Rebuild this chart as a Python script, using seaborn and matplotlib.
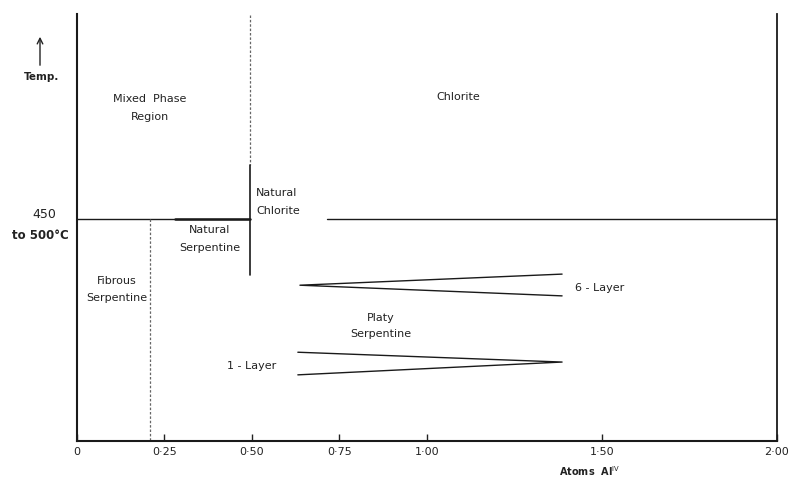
import matplotlib
matplotlib.use("Agg")
import matplotlib.pyplot as plt
import seaborn as sns
import pandas as pd

# ---- data (x = atoms Al IV, y = relative temperature scale 0-100) ----
tick_values = [0, 0.25, 0.50, 0.75, 1.00, 1.50, 2.00]
tick_labels = ["0", "0·25", "0·50", "0·75", "1·00", "1·50", "2·00"]

boundary_y = 52.0                       # 450 to 500 °C line
boundary_left_x = [0.0, 0.494]
boundary_thick_x = [0.28, 0.494]
boundary_right_x = [0.714, 2.0]

nat_x = 0.494
nat_dotted_y = [99.8, 64.6]
nat_solid_y = [64.6, 38.9]

fibrous_x = 0.21
fibrous_y = [52.0, 0.0]

six_layer_x = [1.386, 0.637, 1.386]
six_layer_y = [39.1, 36.5, 34.0]

one_layer_x = [0.631, 1.386, 0.631]
one_layer_y = [20.8, 18.5, 15.5]

sns.set_style("white")
plt.rcParams["font.family"] = ["DejaVu Sans"]

fig = plt.figure(figsize=(7.93, 4.84), dpi=100)
ax = fig.add_axes([0.0971, 0.0888, 0.8827, 0.882])

def seg(x, y, **kw):
    df = pd.DataFrame({"x": x, "y": y})
    sns.lineplot(data=df, x="x", y="y", sort=False, estimator=None, ax=ax,
                 color=kw.pop("color", "#1a1a1a"), **kw)

seg(boundary_left_x, [boundary_y] * 2, linewidth=1.0)
seg(boundary_thick_x, [boundary_y] * 2, linewidth=1.8)
seg(boundary_right_x, [boundary_y] * 2, linewidth=1.0)
seg([nat_x, nat_x], nat_dotted_y, linewidth=0.9, linestyle=(0, (2, 1.5)), color="#666666")
seg([nat_x, nat_x], nat_solid_y, linewidth=1.2)
seg([fibrous_x, fibrous_x], fibrous_y, linewidth=0.9, linestyle=(0, (2, 1.5)), color="#666666")
seg(six_layer_x, six_layer_y, linewidth=1.0)
seg(one_layer_x, one_layer_y, linewidth=1.0)

ax.set_xlim(0, 2.0)
ax.set_ylim(0, 100)
ax.set_xticks(tick_values)
ax.set_xticklabels(tick_labels)
ax.set_yticks([])
ax.set_xlabel("")
ax.set_ylabel("")
ax.tick_params(axis="x", direction="in", length=5, width=1, pad=4,
               labelsize=8, colors="#222222", bottom=True)
ax.spines["top"].set_visible(False)
for s in ["left", "right", "bottom"]:
    ax.spines[s].set_visible(True)
    ax.spines[s].set_color("#1a1a1a")
ax.spines["left"].set_linewidth(1.5)
ax.spines["bottom"].set_linewidth(1.5)
ax.spines["right"].set_linewidth(1.3)

tc = "#222222"
fs = 8
def px(xp, yp):
    return xp / 793, 1 - yp / 484

def t(xp, yp, s, **kw):
    x, y = px(xp, yp)
    fig.text(x, y, s, fontsize=kw.pop("fontsize", fs), color=tc,
             va="center", **kw)

t(150, 99, "Mixed  Phase", ha="center")
t(150, 117, "Region", ha="center")
t(458, 97, "Chlorite", ha="center")
t(256, 193, "Natural", ha="left")
t(256, 211, "Chlorite", ha="left")
t(210, 230, "Natural", ha="center")
t(210, 248, "Serpentine", ha="center")
t(117, 281, "Fibrous", ha="center")
t(117, 298, "Serpentine", ha="center")
t(600, 288, "6 - Layer", ha="center")
t(381, 318, "Platy", ha="center")
t(381, 334, "Serpentine", ha="center")
t(252, 366, "1 - Layer", ha="center")
t(42, 77, "Temp.", ha="center", fontsize=7.5, fontweight="bold")
t(44, 214, "450", ha="center", fontsize=9)
t(40, 236, "to 500°C", ha="center", fontsize=8.5, fontweight="bold")
t(590, 471, r"Atoms  Al$^{\rm IV}$", ha="center", fontsize=7, fontweight="bold")

# temperature arrow
ax.annotate("", xy=px(40, 34), xytext=px(40, 68), xycoords="figure fraction",
            textcoords="figure fraction",
            arrowprops=dict(arrowstyle="->", color="#222222", lw=1.0,
                            mutation_scale=10))

fig.savefig("out.png", dpi=100)
